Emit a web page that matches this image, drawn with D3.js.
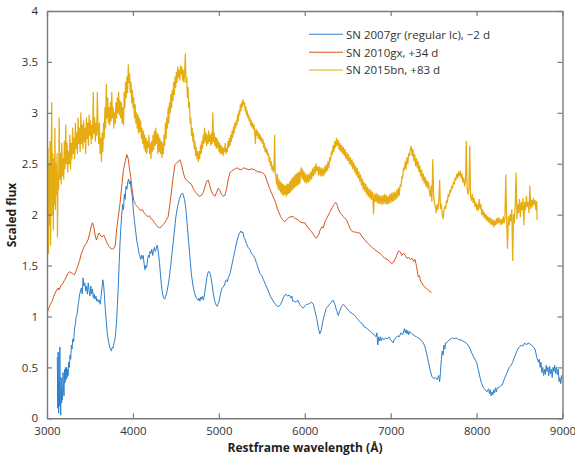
<!DOCTYPE html>
<html><head><meta charset="utf-8">
<script src="https://cdn.jsdelivr.net/npm/d3@7"></script>
<style>
html,body{margin:0;padding:0;background:#fff;}
svg text{font-family:"Open Sans","Noto Sans",sans-serif;}
</style></head>
<body><div id="chart"></div>
<script>
const seriesNames = ["SN 2007gr (regular lc), \u22122 d", "SN 2010gx, +34 d", "SN 2015bn, +83 d"];
const seriesColors = ["#2c7fca", "#d9541e", "#e6ad12"];
const seriesWidths = [1.0, 1.0, 1.25];
const xTicks = [3000, 4000, 5000, 6000, 7000, 8000, 9000];
const yTicks = [0, 0.5, 1, 1.5, 2, 2.5, 3, 3.5, 4];
const xTitle = "Restframe wavelength (\u00c5)";
const yTitle = "Scaled flux";

const sn2007gr = [[3120,0.6],[3125,0.1],[3130,0.65],[3135,0.05],[3140,0.35],[3145,0.12],[3150,0.7],[3155,0.15],[3160,0.03],[3165,0.4],[3170,0.15],[3175,0.28],[3180,0.18],[3186,0.45],[3192,0.3],[3198,0.22],[3204,0.48],[3210,0.35],[3216,0.5],[3222,0.38],[3228,0.5],[3234,0.4],[3240,0.48],[3246,0.42],[3252,0.55],[3260,0.5],[3268,0.62],[3276,0.58],[3284,0.72],[3292,0.68],[3300,0.78],[3310,0.75],[3320,0.88],[3330,0.92],[3340,1.0],[3350,1.02],[3360,1.1],[3370,1.15],[3380,1.22],[3390,1.25],[3400,1.28],[3410,1.22],[3420,1.38],[3430,1.3],[3440,1.33],[3450,1.25],[3460,1.3],[3470,1.22],[3480,1.33],[3490,1.25],[3500,1.2],[3510,1.3],[3520,1.22],[3530,1.27],[3540,1.18],[3550,1.22],[3560,1.17],[3570,1.2],[3580,1.15],[3590,1.17],[3600,1.14],[3610,1.16],[3620,1.12],[3630,1.2],[3640,1.28],[3650,1.36],[3660,1.3],[3670,1.18],[3680,1.05],[3690,0.95],[3700,0.85],[3710,0.78],[3720,0.74],[3730,0.7],[3740,0.68],[3750,0.66],[3760,0.7],[3770,0.69],[3780,0.74],[3790,0.77],[3800,0.85],[3810,0.95],[3820,1.12],[3830,1.3],[3840,1.52],[3850,1.72],[3860,1.88],[3870,2.0],[3880,2.1],[3890,2.05],[3900,2.2],[3910,2.15],[3920,2.28],[3930,2.25],[3940,2.32],[3950,2.35],[3960,2.3],[3970,2.33],[3980,2.25],[3990,2.2],[4000,2.1],[4010,2.0],[4020,1.92],[4030,1.85],[4040,1.78],[4050,1.72],[4060,1.68],[4070,1.62],[4080,1.6],[4090,1.56],[4100,1.6],[4110,1.57],[4120,1.6],[4130,1.52],[4140,1.46],[4150,1.5],[4160,1.48],[4170,1.56],[4180,1.6],[4190,1.58],[4200,1.64],[4210,1.62],[4220,1.66],[4230,1.6],[4240,1.64],[4250,1.68],[4260,1.64],[4270,1.66],[4280,1.7],[4290,1.67],[4300,1.6],[4310,1.52],[4320,1.42],[4330,1.32],[4340,1.25],[4350,1.2],[4360,1.18],[4370,1.17],[4380,1.2],[4390,1.22],[4400,1.26],[4420,1.36],[4440,1.5],[4460,1.66],[4480,1.82],[4500,1.98],[4520,2.08],[4540,2.15],[4560,2.2],[4580,2.21],[4600,2.15],[4610,2.1],[4620,2.02],[4630,1.92],[4640,1.82],[4650,1.72],[4660,1.62],[4670,1.52],[4680,1.42],[4690,1.36],[4700,1.3],[4720,1.22],[4740,1.18],[4760,1.16],[4770,1.18],[4780,1.15],[4790,1.19],[4800,1.17],[4810,1.2],[4820,1.16],[4830,1.2],[4840,1.26],[4850,1.32],[4860,1.38],[4870,1.42],[4880,1.44],[4890,1.44],[4900,1.42],[4910,1.38],[4920,1.32],[4930,1.26],[4940,1.2],[4950,1.16],[4960,1.13],[4970,1.11],[4980,1.1],[4990,1.12],[5000,1.14],[5010,1.18],[5020,1.22],[5030,1.26],[5040,1.28],[5060,1.3],[5080,1.35],[5090,1.36],[5100,1.34],[5110,1.38],[5130,1.42],[5150,1.5],[5170,1.58],[5190,1.66],[5210,1.74],[5230,1.8],[5250,1.83],[5260,1.84],[5270,1.82],[5280,1.83],[5290,1.78],[5300,1.77],[5320,1.72],[5340,1.68],[5360,1.66],[5380,1.62],[5400,1.6],[5420,1.57],[5440,1.52],[5460,1.47],[5480,1.42],[5500,1.4],[5520,1.36],[5540,1.32],[5560,1.28],[5580,1.24],[5600,1.2],[5620,1.17],[5640,1.14],[5660,1.12],[5680,1.1],[5700,1.1],[5720,1.12],[5740,1.16],[5760,1.2],[5780,1.22],[5800,1.2],[5820,1.21],[5840,1.18],[5850,1.2],[5860,1.15],[5880,1.15],[5900,1.14],[5920,1.16],[5940,1.12],[5960,1.1],[5980,1.08],[6000,1.1],[6020,1.12],[6040,1.12],[6060,1.13],[6080,1.14],[6100,1.12],[6120,1.05],[6140,0.98],[6160,0.88],[6175,0.83],[6190,0.86],[6210,0.95],[6230,1.02],[6250,1.08],[6270,1.1],[6290,1.12],[6310,1.14],[6330,1.16],[6350,1.12],[6370,1.06],[6390,1.01],[6410,1.06],[6430,1.1],[6450,1.12],[6470,1.1],[6490,1.08],[6510,1.06],[6530,1.04],[6550,1.03],[6570,1.02],[6590,1.0],[6610,0.98],[6630,0.96],[6650,0.94],[6670,0.93],[6690,0.9],[6710,0.89],[6730,0.88],[6750,0.86],[6770,0.85],[6790,0.83],[6810,0.82],[6830,0.8],[6840,0.84],[6850,0.72],[6860,0.8],[6870,0.76],[6880,0.8],[6890,0.76],[6900,0.79],[6920,0.77],[6940,0.79],[6960,0.78],[6980,0.8],[7000,0.77],[7020,0.75],[7030,0.74],[7040,0.77],[7060,0.79],[7080,0.81],[7100,0.8],[7120,0.84],[7140,0.82],[7160,0.88],[7170,0.84],[7180,0.87],[7190,0.83],[7200,0.86],[7210,0.82],[7220,0.85],[7240,0.84],[7260,0.82],[7280,0.81],[7300,0.8],[7320,0.79],[7340,0.78],[7360,0.76],[7380,0.74],[7400,0.7],[7420,0.63],[7440,0.55],[7460,0.47],[7480,0.41],[7500,0.39],[7520,0.4],[7540,0.38],[7560,0.42],[7570,0.36],[7580,0.45],[7590,0.58],[7600,0.66],[7610,0.62],[7620,0.72],[7630,0.68],[7640,0.74],[7660,0.75],[7680,0.77],[7700,0.78],[7720,0.79],[7740,0.78],[7760,0.79],[7780,0.78],[7800,0.77],[7820,0.77],[7840,0.76],[7860,0.75],[7880,0.74],[7900,0.72],[7920,0.69],[7940,0.65],[7960,0.61],[7980,0.58],[8000,0.55],[8020,0.48],[8040,0.4],[8060,0.34],[8080,0.3],[8100,0.28],[8120,0.26],[8140,0.29],[8150,0.24],[8160,0.28],[8170,0.22],[8180,0.26],[8190,0.23],[8200,0.28],[8210,0.25],[8220,0.3],[8230,0.26],[8240,0.3],[8260,0.3],[8280,0.32],[8300,0.33],[8320,0.38],[8340,0.42],[8360,0.46],[8380,0.5],[8400,0.52],[8420,0.55],[8440,0.6],[8460,0.64],[8480,0.68],[8500,0.7],[8520,0.72],[8540,0.71],[8560,0.74],[8580,0.72],[8600,0.74],[8620,0.73],[8640,0.72],[8660,0.7],[8680,0.68],[8690,0.64],[8700,0.6],[8720,0.55],[8730,0.58],[8740,0.5],[8750,0.55],[8760,0.45],[8770,0.5],[8780,0.42],[8790,0.48],[8800,0.43],[8810,0.52],[8820,0.46],[8830,0.5],[8840,0.42],[8850,0.51],[8860,0.44],[8870,0.48],[8880,0.4],[8890,0.5],[8900,0.46],[8910,0.52],[8920,0.44],[8930,0.5],[8940,0.43],[8950,0.48],[8960,0.36],[8970,0.4],[8980,0.34],[8990,0.42],[9000,0.4]];

const sn2010gx = [[3000,1.03],[3020,1.08],[3040,1.12],[3060,1.15],[3080,1.2],[3100,1.24],[3120,1.27],[3130,1.28],[3140,1.26],[3160,1.3],[3180,1.32],[3200,1.35],[3220,1.38],[3240,1.42],[3260,1.44],[3280,1.43],[3300,1.42],[3320,1.41],[3340,1.45],[3360,1.5],[3380,1.55],[3400,1.62],[3420,1.66],[3440,1.7],[3460,1.72],[3480,1.76],[3500,1.83],[3520,1.9],[3530,1.92],[3545,1.88],[3560,1.8],[3575,1.75],[3590,1.79],[3605,1.82],[3620,1.8],[3640,1.78],[3660,1.8],[3680,1.76],[3700,1.72],[3720,1.69],[3740,1.67],[3760,1.66],[3780,1.67],[3795,1.7],[3810,1.85],[3830,1.98],[3850,2.11],[3870,2.28],[3890,2.44],[3910,2.52],[3930,2.59],[3945,2.55],[3960,2.45],[3975,2.37],[3990,2.25],[4010,2.14],[4030,2.1],[4050,2.08],[4070,2.06],[4090,2.04],[4110,2.05],[4130,2.02],[4150,2.0],[4170,1.98],[4190,1.99],[4210,1.96],[4230,1.95],[4250,1.92],[4270,1.9],[4290,1.88],[4310,1.87],[4330,1.88],[4350,1.9],[4370,1.92],[4390,1.95],[4410,1.98],[4430,2.1],[4450,2.24],[4470,2.38],[4490,2.49],[4510,2.51],[4530,2.52],[4547,2.54],[4566,2.49],[4585,2.42],[4604,2.36],[4624,2.34],[4650,2.32],[4680,2.3],[4700,2.26],[4720,2.23],[4741,2.21],[4770,2.18],[4800,2.19],[4820,2.22],[4840,2.28],[4860,2.33],[4875,2.34],[4890,2.3],[4910,2.24],[4930,2.2],[4955,2.18],[4975,2.22],[4993,2.26],[5010,2.24],[5030,2.2],[5050,2.18],[5071,2.19],[5090,2.25],[5110,2.35],[5129,2.41],[5150,2.43],[5170,2.44],[5190,2.45],[5207,2.46],[5230,2.45],[5260,2.44],[5290,2.46],[5320,2.45],[5350,2.44],[5380,2.45],[5420,2.44],[5450,2.42],[5480,2.42],[5510,2.41],[5536,2.39],[5560,2.33],[5590,2.26],[5620,2.2],[5640,2.16],[5660,2.12],[5680,2.06],[5700,2.02],[5720,1.98],[5740,1.95],[5769,1.93],[5790,1.95],[5810,1.97],[5840,1.98],[5866,1.98],[5890,1.96],[5920,1.95],[5944,1.93],[5970,1.92],[6002,1.92],[6030,1.88],[6060,1.85],[6090,1.82],[6120,1.78],[6138,1.77],[6160,1.8],[6180,1.85],[6200,1.88],[6215,1.87],[6235,1.93],[6260,1.97],[6290,2.02],[6320,2.07],[6340,2.1],[6360,2.12],[6375,2.1],[6390,2.06],[6410,2.02],[6430,2.0],[6450,1.98],[6470,1.96],[6487,1.95],[6510,1.9],[6530,1.86],[6550,1.84],[6565,1.83],[6590,1.83],[6620,1.82],[6642,1.82],[6670,1.78],[6700,1.75],[6730,1.72],[6758,1.7],[6780,1.68],[6810,1.66],[6840,1.64],[6875,1.62],[6900,1.6],[6930,1.57],[6960,1.56],[6990,1.54],[7010,1.52],[7030,1.53],[7050,1.56],[7070,1.6],[7090,1.64],[7107,1.64],[7130,1.6],[7150,1.62],[7170,1.6],[7190,1.57],[7210,1.58],[7230,1.56],[7250,1.57],[7270,1.54],[7282,1.56],[7300,1.5],[7320,1.39],[7335,1.4],[7350,1.34],[7365,1.33],[7380,1.3],[7398,1.29],[7420,1.27],[7440,1.26],[7460,1.24],[7476,1.24]];

const sn2015bn = [[3000,2.3],[3006,1.75],[3012,2.65],[3018,1.62],[3024,2.5],[3030,1.9],[3036,2.72],[3042,1.7],[3048,2.45],[3055,3.1],[3061,2.0],[3067,2.6],[3073,1.85],[3080,2.55],[3086,2.1],[3092,2.85],[3098,2.05],[3105,2.5],[3111,2.2],[3117,2.6],[3122,1.78],[3128,2.4],[3135,2.25],[3142,2.95],[3150,2.35],[3158,2.6],[3165,2.3],[3172,2.7],[3180,2.38],[3188,2.55],[3195,2.35],[3202,2.72],[3210,2.45],[3218,2.88],[3226,2.5],[3234,2.7],[3242,2.42],[3250,2.62],[3258,2.5],[3266,2.78],[3274,2.45],[3282,2.7],[3290,2.55],[3298,2.85],[3306,2.6],[3314,2.75],[3322,2.55],[3330,2.9],[3338,2.65],[3346,2.8],[3354,2.6],[3362,2.95],[3370,2.7],[3378,2.85],[3386,2.62],[3394,3.0],[3402,2.7],[3410,2.88],[3418,2.65],[3426,2.92],[3434,2.72],[3442,2.85],[3450,2.6],[3458,2.95],[3466,2.75],[3474,2.9],[3482,2.68],[3490,2.98],[3498,2.78],[3506,2.92],[3514,2.7],[3522,2.88],[3530,2.75],[3538,3.2],[3546,2.8],[3554,2.95],[3562,2.72],[3570,2.9],[3578,2.78],[3586,3.2],[3594,2.85],[3602,2.7],[3610,2.9],[3618,2.6],[3626,2.75],[3634,2.52],[3642,2.8],[3650,2.62],[3658,2.9],[3666,2.75],[3674,3.05],[3682,2.85],[3690,3.28],[3698,2.95],[3706,3.15],[3714,2.9],[3722,3.05],[3730,2.88],[3738,3.1],[3746,2.92],[3754,3.2],[3762,2.95],[3770,3.05],[3778,2.85],[3786,3.0],[3794,2.9],[3802,3.1],[3810,2.95],[3818,3.15],[3826,3.0],[3834,3.2],[3842,2.98],[3850,3.12],[3858,2.95],[3866,3.1],[3874,2.9],[3882,3.05],[3890,2.88],[3898,3.2],[3906,3.05],[3914,3.3],[3922,3.15],[3930,3.35],[3938,3.2],[3946,3.47],[3954,3.3],[3962,3.38],[3970,3.2],[3978,3.3],[3986,3.1],[3994,3.22],[4002,3.05],[4010,3.15],[4018,2.95],[4026,3.08],[4034,2.9],[4042,3.0],[4050,2.85],[4058,2.98],[4066,2.8],[4074,2.95],[4082,2.82],[4090,2.92],[4098,2.75],[4106,2.85],[4114,2.7],[4122,2.82],[4130,2.65],[4138,2.78],[4146,2.62],[4154,2.75],[4162,2.6],[4170,2.72],[4178,2.66],[4186,2.78],[4194,2.6],[4202,2.7],[4210,2.55],[4218,2.72],[4226,2.62],[4234,2.78],[4242,2.64],[4250,2.82],[4258,2.68],[4266,2.85],[4274,2.7],[4282,2.8],[4290,2.6],[4298,2.78],[4306,2.62],[4314,2.75],[4322,2.6],[4330,2.72],[4338,2.56],[4346,2.7],[4354,2.6],[4362,2.78],[4370,2.68],[4378,2.9],[4386,2.75],[4394,2.95],[4402,2.85],[4410,3.05],[4418,2.9],[4426,3.1],[4434,3.0],[4442,3.18],[4450,3.05],[4458,3.22],[4466,3.12],[4474,3.3],[4482,3.18],[4490,3.35],[4498,3.25],[4506,3.4],[4514,3.3],[4522,3.45],[4530,3.35],[4538,3.42],[4546,3.32],[4554,3.46],[4562,3.38],[4570,3.45],[4578,3.32],[4586,3.42],[4594,3.3],[4602,3.4],[4610,3.58],[4618,3.3],[4626,3.35],[4634,3.15],[4642,3.25],[4650,3.05],[4658,3.1],[4666,2.9],[4674,2.95],[4682,2.78],[4690,2.85],[4698,2.72],[4706,2.8],[4714,2.65],[4722,2.72],[4730,2.58],[4738,2.66],[4746,2.55],[4754,2.62],[4762,2.52],[4770,2.62],[4778,2.55],[4786,2.68],[4794,2.6],[4802,2.72],[4810,2.65],[4818,2.78],[4826,2.7],[4834,2.85],[4842,2.72],[4850,2.8],[4858,2.68],[4866,2.78],[4874,2.7],[4882,2.82],[4890,2.72],[4898,2.78],[4906,2.68],[4914,2.8],[4922,2.7],[4930,3.0],[4938,2.72],[4946,2.8],[4954,2.68],[4962,2.76],[4970,2.65],[4978,2.75],[4986,2.66],[4994,2.72],[5002,2.62],[5010,2.7],[5018,2.6],[5026,2.68],[5034,2.6],[5042,2.66],[5050,2.58],[5058,2.65],[5066,2.62],[5074,2.7],[5082,2.6],[5090,2.65],[5098,2.62],[5106,2.72],[5114,2.66],[5122,2.75],[5130,2.68],[5138,2.78],[5146,2.72],[5154,2.82],[5162,2.76],[5170,2.86],[5178,2.8],[5186,2.9],[5194,2.85],[5202,2.92],[5210,2.88],[5218,2.98],[5226,2.92],[5234,3.02],[5242,2.98],[5250,3.08],[5258,3.02],[5266,3.1],[5274,3.06],[5282,3.13],[5290,3.08],[5298,3.1],[5306,3.02],[5314,3.06],[5322,2.98],[5330,3.02],[5338,2.95],[5346,2.98],[5354,2.92],[5362,2.95],[5370,2.88],[5378,2.92],[5386,2.86],[5394,2.9],[5402,2.84],[5410,2.88],[5418,2.8],[5426,2.7],[5434,2.84],[5442,2.78],[5450,2.82],[5458,2.75],[5466,2.8],[5474,2.74],[5482,2.78],[5490,2.72],[5498,2.76],[5506,2.7],[5514,2.74],[5522,2.66],[5530,2.7],[5538,2.62],[5546,2.66],[5554,2.6],[5562,2.64],[5570,2.58],[5578,2.6],[5586,2.52],[5594,2.56],[5602,2.48],[5610,2.52],[5618,2.44],[5626,2.48],[5634,2.42],[5642,2.45],[5650,2.78],[5656,2.4],[5664,2.38],[5672,2.3],[5680,2.4],[5688,2.26],[5696,2.35],[5704,2.24],[5712,2.33],[5720,2.22],[5728,2.31],[5736,2.2],[5744,2.3],[5752,2.19],[5760,2.29],[5768,2.2],[5776,2.28],[5784,2.18],[5792,2.3],[5800,2.2],[5808,2.3],[5816,2.21],[5824,2.32],[5832,2.22],[5840,2.34],[5848,2.24],[5856,2.36],[5864,2.25],[5872,2.37],[5880,2.27],[5888,2.39],[5896,2.28],[5904,2.4],[5912,2.29],[5920,2.41],[5928,2.3],[5936,2.42],[5944,2.31],[5952,2.42],[5960,2.46],[5968,2.36],[5976,2.44],[5984,2.34],[5992,2.42],[6000,2.32],[6010,2.4],[6020,2.31],[6030,2.39],[6040,2.32],[6050,2.4],[6060,2.33],[6070,2.42],[6080,2.35],[6090,2.45],[6100,2.38],[6110,2.47],[6120,2.4],[6130,2.5],[6140,2.43],[6150,2.47],[6160,2.39],[6170,2.47],[6180,2.38],[6190,2.46],[6200,2.38],[6210,2.45],[6220,2.38],[6230,2.47],[6240,2.41],[6250,2.49],[6260,2.43],[6270,2.52],[6280,2.46],[6290,2.56],[6300,2.53],[6310,2.62],[6320,2.59],[6330,2.68],[6340,2.62],[6350,2.72],[6360,2.66],[6370,2.75],[6380,2.68],[6390,2.73],[6400,2.64],[6410,2.7],[6420,2.62],[6430,2.68],[6440,2.6],[6450,2.66],[6460,2.58],[6470,2.64],[6480,2.55],[6490,2.61],[6500,2.53],[6510,2.59],[6520,2.5],[6530,2.56],[6540,2.48],[6550,2.54],[6560,2.45],[6570,2.51],[6580,2.42],[6590,2.48],[6600,2.39],[6610,2.46],[6620,2.36],[6630,2.42],[6640,2.33],[6650,2.39],[6660,2.29],[6670,2.35],[6680,2.25],[6690,2.32],[6700,2.23],[6710,2.3],[6720,2.2],[6730,2.27],[6740,2.18],[6750,2.25],[6760,2.16],[6770,2.24],[6780,2.15],[6790,2.22],[6800,2.01],[6810,2.2],[6820,2.13],[6830,2.21],[6840,2.12],[6850,2.2],[6860,2.11],[6870,2.19],[6880,2.11],[6890,2.18],[6900,2.1],[6910,2.19],[6920,2.11],[6930,2.2],[6940,2.11],[6950,2.19],[6960,2.1],[6970,2.18],[6980,2.11],[6990,2.2],[7000,2.12],[7010,2.21],[7020,2.13],[7030,2.22],[7040,2.14],[7050,2.22],[7060,2.15],[7070,2.24],[7080,2.17],[7090,2.26],[7100,2.19],[7110,2.29],[7120,2.28],[7130,2.37],[7140,2.36],[7150,2.46],[7160,2.44],[7170,2.52],[7180,2.45],[7190,2.56],[7200,2.5],[7210,2.6],[7220,2.58],[7230,2.65],[7240,2.67],[7250,2.58],[7260,2.64],[7270,2.53],[7280,2.59],[7290,2.48],[7300,2.55],[7310,2.46],[7320,2.52],[7330,2.42],[7340,2.48],[7350,2.38],[7360,2.44],[7370,2.34],[7380,2.4],[7390,2.31],[7400,2.37],[7410,2.28],[7420,2.34],[7430,2.26],[7440,2.32],[7450,2.23],[7460,2.18],[7470,2.28],[7480,2.13],[7490,2.54],[7500,2.18],[7510,2.12],[7520,2.08],[7530,2.02],[7540,2.1],[7550,2.05],[7560,2.12],[7570,2.34],[7580,2.06],[7590,2.1],[7600,2.0],[7610,1.96],[7620,2.04],[7630,2.08],[7640,2.06],[7650,2.14],[7660,2.12],[7670,2.2],[7680,2.18],[7690,2.24],[7700,2.22],[7710,2.28],[7720,2.26],[7730,2.32],[7740,2.3],[7750,2.36],[7760,2.34],[7770,2.4],[7780,2.36],[7790,2.42],[7800,2.38],[7810,2.43],[7820,2.36],[7830,2.4],[7840,2.32],[7850,2.36],[7860,2.28],[7870,2.32],[7880,2.72],[7890,2.26],[7900,2.2],[7910,2.24],[7920,2.67],[7930,2.18],[7940,2.14],[7950,2.2],[7960,2.12],[7970,2.16],[7980,2.08],[7990,2.12],[8000,2.05],[8010,2.1],[8020,2.04],[8030,2.15],[8040,2.06],[8050,2.1],[8060,2.0],[8070,2.05],[8080,1.98],[8090,2.02],[8100,1.96],[8110,2.0],[8120,1.94],[8130,1.98],[8140,1.93],[8150,1.97],[8160,1.91],[8170,1.96],[8180,1.9],[8190,1.95],[8200,1.88],[8210,1.94],[8220,1.9],[8230,1.96],[8240,1.91],[8250,1.97],[8260,1.92],[8270,1.96],[8280,1.9],[8290,1.95],[8300,1.91],[8310,1.98],[8320,1.92],[8330,1.97],[8340,2.39],[8350,1.93],[8360,1.67],[8370,1.98],[8380,1.9],[8390,2.0],[8400,1.94],[8410,2.05],[8420,1.55],[8430,2.0],[8440,1.92],[8450,2.1],[8460,2.41],[8470,1.96],[8480,2.1],[8490,2.02],[8500,2.15],[8510,1.98],[8520,2.12],[8530,2.05],[8540,2.16],[8550,1.9],[8560,2.12],[8570,2.05],[8580,2.18],[8590,2.08],[8600,2.12],[8610,2.02],[8620,2.28],[8630,2.06],[8640,2.14],[8650,2.08],[8660,2.16],[8670,2.1],[8680,2.14],[8690,2.05],[8700,2.13],[8705,1.95]];

const W = 575, H = 459;
const pL = 47, pR = 562.5, pT = 11, pB = 418.3;

const svg = d3.select("#chart").append("svg").attr("width", W).attr("height", H);

const x = d3.scaleLinear().domain([3000, 9000]).range([pL, pR]);
const y = d3.scaleLinear().domain([0, 4]).range([pB, pT]);

svg.append("defs").append("clipPath").attr("id", "clip")
  .append("rect").attr("x", pL).attr("y", pT).attr("width", pR - pL).attr("height", pB - pT);

const line = d3.line().x(d => x(d[0])).y(d => y(d[1]));
const allSeries = [sn2007gr, sn2010gx, sn2015bn];
const drawOrder = [2, 1, 0];
const g = svg.append("g").attr("clip-path", "url(#clip)");
drawOrder.forEach(i => {
  g.append("path").datum(allSeries[i])
    .attr("fill", "none").attr("stroke", seriesColors[i])
    .attr("stroke-width", seriesWidths[i]).attr("stroke-linejoin", "round")
    .attr("d", line);
});

const axisColor = "#7a7a7a";
const labelColor = "#333";
const tk = 5;
const xB = svg.append("g").attr("transform", `translate(0,${pB})`)
  .call(d3.axisBottom(x).tickValues(xTicks).tickSizeInner(-tk).tickSizeOuter(0).tickPadding(9).tickFormat(d3.format("d")));
const xT = svg.append("g").attr("transform", `translate(0,${pT})`)
  .call(d3.axisTop(x).tickValues(xTicks).tickSizeInner(-tk).tickSizeOuter(0).tickFormat(""));
const yL = svg.append("g").attr("transform", `translate(${pL},0)`)
  .call(d3.axisLeft(y).tickValues(yTicks).tickSizeInner(-tk).tickSizeOuter(0).tickPadding(9).tickFormat(d => String(d)));
const yR = svg.append("g").attr("transform", `translate(${pR},0)`)
  .call(d3.axisRight(y).tickValues(yTicks).tickSizeInner(-tk).tickSizeOuter(0).tickFormat(""));
[xB, xT, yL, yR].forEach(a => {
  a.select(".domain").attr("stroke", axisColor).attr("stroke-width", 1.4);
  a.selectAll(".tick line").attr("stroke", axisColor).attr("stroke-width", 1.2);
  a.selectAll(".tick text").attr("fill", labelColor).style("font-size", "11.5px")
    .style("font-family", "'Open Sans','Noto Sans',sans-serif");
});

svg.append("text").attr("x", 305).attr("y", 452).attr("text-anchor", "middle")
  .attr("fill", "#222").style("font-size", "12px").style("font-weight", "bold").text(xTitle);
svg.append("text").attr("transform", "translate(16,215) rotate(-90)").attr("text-anchor", "middle")
  .attr("fill", "#222").style("font-size", "12px").style("font-weight", "bold").text(yTitle);

const legY = [34.3, 52.3, 70];
seriesNames.forEach((n, i) => {
  svg.append("line").attr("x1", 309).attr("x2", 343).attr("y1", legY[i]).attr("y2", legY[i])
    .attr("stroke", seriesColors[i]).attr("stroke-width", 1.1);
  svg.append("text").attr("x", 346).attr("y", legY[i] + 4.2).attr("fill", labelColor)
    .style("font-size", "11.5px").text(n);
});
</script></body></html>
